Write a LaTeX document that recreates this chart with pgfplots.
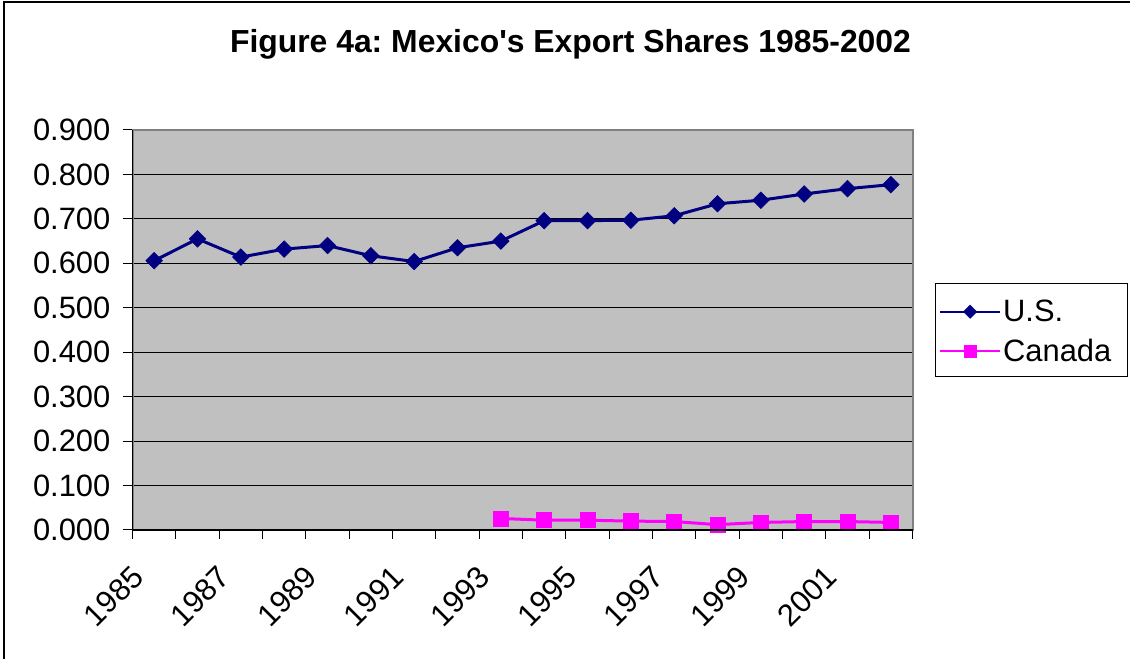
\documentclass[border=0pt]{standalone}
\usepackage{pgfplots}
\pgfplotsset{compat=1.18}
\usepackage{fontspec}
\setmainfont{Liberation Sans}
\frenchspacing
\definecolor{usnavy}{HTML}{000080}
\definecolor{cmag}{HTML}{FF00FF}
\definecolor{plotgray}{HTML}{C0C0C0}
\definecolor{framegray}{HTML}{808080}
\begin{document}
\begin{tikzpicture}[x=1bp,y=1bp]
\useasboundingbox (0,0) rectangle (1130,659);
\draw[black,line width=1.5bp] (4,0) -- (4,657) -- (1130,657);
\node[anchor=base,inner sep=0pt,font=\bfseries\fontsize{32}{34}\selectfont] at (570.5,606.3) {Figure 4a: Mexico\textquotesingle s Export Shares 1985-2002};
\begin{axis}[
  at={(132.5bp,129bp)}, anchor=south west,
  width=780bp, height=400bp, scale only axis,
  xmin=-0.5, xmax=17.5, ymin=0, ymax=0.9,
  axis background/.style={fill=plotgray},
  axis line style={draw=framegray,line width=2bp},
  xtick={0,2,...,16},
  xticklabels={1985,1987,1989,1991,1993,1995,1997,1999,2001},
  minor xtick={-0.5,0.5,...,17.5},
  ytick={0,0.1,...,0.9},
  tick align=outside,
  tick pos=left,
  major x tick style={draw=none},
  minor tick length=9bp,
  major tick length=10bp,
  every tick/.style={black,line width=1bp},
  ymajorgrids,
  major grid style={black,line width=1bp},
  yticklabel style={/pgf/number format/fixed,/pgf/number format/fixed zerofill,/pgf/number format/precision=3,/pgf/number format/assume math mode=true,font=\fontsize{31}{32}\selectfont,anchor=east,inner sep=0pt,xshift=-12bp},
  xticklabel style={font=\fontsize{31}{32}\selectfont,inner sep=0pt,xshift=-24bp,yshift=-24bp,rotate=45,anchor=north east},
  legend style={at={(1.0288,0.615)},anchor=north west,draw=none,fill=none,
    font=\fontsize{31}{32}\selectfont,inner xsep=4bp,inner ysep=14bp,row sep=12bp,
    legend cell align=left},
  legend image code/.code={\draw[mark repeat=2,mark phase=2,#1,line width=2bp,every mark/.append style={scale=0.8}] plot coordinates {(0bp,0bp) (30bp,0bp) (60bp,0bp)};},
  after end axis/.code={
    \draw[black,line width=1.3bp] (rel axis cs:0,1) -- (rel axis cs:0,0) -- (rel axis cs:1,0);
  },
]
\addplot[usnavy,line width=3bp,mark=square*,mark size=5.9bp,mark options={rotate=45,fill=usnavy,draw=usnavy,line width=0.5bp}] coordinates {
(0,0.606) (1,0.655) (2,0.614) (3,0.632) (4,0.640) (5,0.617) (6,0.604) (7,0.635) (8,0.650)
(9,0.696) (10,0.696) (11,0.697) (12,0.707) (13,0.734) (14,0.742) (15,0.756) (16,0.768) (17,0.777)};
\addlegendentry{U.S.}
\addplot[cmag,line width=3bp,mark=square*,mark size=7.5bp,mark options={fill=cmag,draw=cmag,line width=0.5bp}] coordinates {
(8,0.026) (9,0.022) (10,0.022) (11,0.020) (12,0.019) (13,0.012) (14,0.017) (15,0.019) (16,0.019) (17,0.017)};
\addlegendentry{Canada}
\end{axis}
\draw[black,line width=1bp] (935,282) rectangle (1127,375);
\end{tikzpicture}
\end{document}
